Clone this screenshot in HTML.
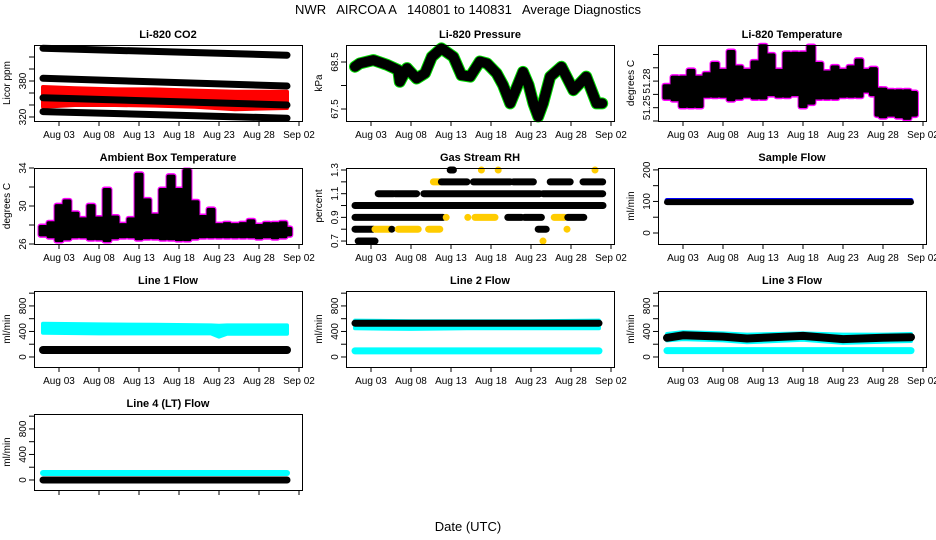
<!DOCTYPE html>
<html><head><meta charset="utf-8"><style>
html,body{margin:0;padding:0;background:#fff;}
svg{display:block;font-family:"Liberation Sans",Arial,sans-serif;}
</style></head><body>
<svg id="chart" width="936" height="540" viewBox="0 0 936 540" xmlns="http://www.w3.org/2000/svg">
<text x="468" y="14" text-anchor="middle" font-size="13" style="white-space:pre">NWR   AIRCOA A   140801 to 140831   Average Diagnostics</text>
<text x="468" y="531" text-anchor="middle" font-size="13">Date (UTC)</text>
</svg>
<script>
// ---- shared x axis ----
const xTickDays = [3, 8, 13, 18, 23, 28, 33];
const xTickLabels = ["Aug 03", "Aug 08", "Aug 13", "Aug 18", "Aug 23", "Aug 28", "Sep 02"];
// ---- CO2 ----
const co2Dates = [1, 31.5];
const co2Ref1 = [434.5, 423];
const co2Ref2 = [384.5, 371.7];
const co2Ref3 = [352, 340];
const co2Ref4 = [329, 318];
const co2RedDates = [1, 5, 10, 15, 20, 25, 31.5];
const co2RedHi = [370, 368, 366, 366, 364, 362, 362];
const co2RedLo = [337, 340, 340, 339, 337, 333, 335];
// ---- Pressure ----
const presDates = [1.0,1.6,3.3,5.0,6.4,6.6,7.5,8.1,8.7,9.75,10.6,11.8,13.3,14.3,15.4,16.6,17.5,18.7,19.5,20.4,21,22,22.7,23.3,23.9,24.5,25.4,26.8,28.3,29.9,31.2,31.9];
const presVals = [68.40,68.47,68.54,68.44,68.33,68.08,68.37,68.26,68.15,68.26,68.61,68.79,68.61,68.22,68.19,68.51,68.47,68.26,68.01,67.62,67.87,68.29,68.01,67.62,67.34,67.62,68.19,68.40,67.90,68.19,67.62,67.62];
// ---- Li-820 temperature (daily hi/lo) ----
const tempDates = [1,2,3,4,5,6,7,8,9,10,11,12,13,14,15,16,17,18,19,20,21,22,23,24,25,26,26.8,27.5,28,29,30,31,31.8];
const tempHi = [51.2765,51.2861,51.2861,51.2938,51.2861,51.2900,51.3016,51.2938,51.3150,51.2977,51.2938,51.3034,51.3215,51.3112,51.2938,51.3131,51.3131,51.3131,51.3207,51.3016,51.2919,51.2977,51.2938,51.2977,51.3054,51.2938,51.2958,51.2727,51.2727,51.2708,51.2708,51.2708,51.2688];
const tempLo = [51.2592,51.2573,51.2497,51.2497,51.2497,51.2612,51.2612,51.2612,51.2573,51.2592,51.2612,51.2592,51.2592,51.2630,51.2612,51.2612,51.2630,51.2497,51.2535,51.2592,51.2592,51.2592,51.2612,51.2612,51.2612,51.2670,51.2630,51.2400,51.2381,51.2400,51.2381,51.2362,51.2400];
// ---- Ambient box temperature ----
const ambDates = [1,2,3,4,5,6,7,8,9,10,11,12,13,14,15,16,17,18,19,20,21,22,23,24,25,26,27,28,29,30,31,31.6];
const ambHi = [28.0,28.4,30.2,30.7,29.4,28.8,30.2,28.9,31.9,29.0,28.2,28.8,33.5,30.8,29.2,31.9,33.3,31.9,33.9,30.6,29.05,29.8,28.2,28.3,28.2,28.3,28.6,28.1,28.3,28.3,28.4,27.8];
const ambLo = [26.8,26.6,26.2,26.4,26.6,26.6,26.4,26.4,26.2,26.5,26.6,26.6,26.4,26.5,26.5,26.4,26.4,26.3,26.3,26.5,26.6,26.6,26.6,26.6,26.6,26.6,26.6,26.5,26.6,26.5,26.6,26.8];
// ---- Gas stream RH runs ----
const rhLevel = [1.0,0.9,0.9,0.9,0.9,0.9,0.9,0.9,0.9,1.1,1.1,1.1,1.1,1.2,1.2,1.2,1.2,1.2,1.2,0.8,0.8,0.8,0.8,0.8,0.8,0.8,0.7,0.7,1.3,1.3,1.3,1.3];
const rhStart = [1,1,12.4,15.1,16,20.1,22.2,25.9,27.6,3.9,6.0,9.6,24.5,10.8,11.8,15.8,20.8,25.4,29.5,1,3.5,5.6,6.4,10.2,23.9,27.5,1.4,24.5,12.9,16.8,18.9,31.0];
const rhEnd = [32,12.0,12.4,15.1,18.5,21.8,24.3,27.2,29.6,5.8,8.7,24.1,31.96,11.6,15.0,20.4,23.3,27.9,31.96,3.3,5.4,5.6,8.9,11.6,24.9,27.5,3.5,24.5,13.3,16.8,18.9,31.0];
const rhFlag = [0,0,1,1,1,0,0,1,0,0,0,0,0,1,0,0,0,0,0,0,1,0,1,1,0,1,0,1,0,1,1,1];
// ---- Flows ----
const flatDates = [1, 31.5];
const sampleBlue = [103, 103];
const sampleBlack = [98, 98];
const l1CyanDates = [1, 8, 15, 22, 23, 24, 31.5];
const l1CyanHi = [520, 510, 505, 495, 490, 495, 495];
const l1CyanLo = [380, 370, 370, 370, 320, 365, 365];
const l1Black = [110, 110];
const l2CyanDates = [1, 8, 15, 23, 31.5];
const l2CyanHi = [570, 560, 560, 560, 570];
const l2CyanLo = [450, 440, 450, 450, 450];
const l2Black = [530, 530];
const l2Low = [95, 95];
const l3Dates = [1, 3, 8, 11, 18, 23, 28, 31.5];
const l3CyanHi = [360, 390, 370, 350, 370, 350, 350, 360];
const l3CyanLo = [260, 280, 260, 230, 270, 220, 240, 250];
const l3Black = [300, 340, 320, 290, 330, 280, 300, 310];
const l3Low = [100, 100];
const l4Cyan = [110, 110];
const l4Black = [0, 0];

const NS = "http://www.w3.org/2000/svg";
const svg = document.getElementById("chart");
function mk(tag, attrs, parent) {
  const e = document.createElementNS(NS, tag);
  for (const k in attrs) e.setAttribute(k, attrs[k]);
  (parent || svg).appendChild(e);
  return e;
}
const colL = [34, 346, 658], rowT = [45, 168, 291, 414], PW = 268, PH = 76;

function panel(col, row, name, title, ylab, ylim, ticks, labels, showX) {
  const x0 = colL[col], y0 = rowT[row];
  const g = mk("g", {});
  
  
  const xs = d => x0 + 9 + (d - 1) * 8;
  const ys = v => y0 + PH - (v - ylim[0]) / (ylim[1] - ylim[0]) * PH;
  const t = mk("text", {x: x0 + PW / 2, y: y0 - 7, "text-anchor": "middle", "font-size": "11", "font-weight": "bold"}, g);
  t.textContent = title;
  
  
  const yl = mk("text", {transform: `translate(${x0 - 24},${y0 + PH / 2}) rotate(-90)`, "text-anchor": "middle", "font-size": "10"}, g);
  yl.textContent = ylab;
  
  
  const data = mk("g", {}, g);
  
  
  const ax = mk("g", {stroke: "#000", "stroke-width": "1", fill: "none"}, g);
  
  
  mk("rect", {x: x0 + 0.5, y: y0 + 0.5, width: PW, height: PH}, ax);
  xTickDays.forEach((d, i) => {
    mk("line", {x1: xs(d), x2: xs(d), y1: y0 + PH, y2: y0 + PH + 5}, ax);
    if (showX) {
      const tl = mk("text", {x: xs(d), y: y0 + PH + 17, "text-anchor": "middle", "font-size": "10", fill: "#000", stroke: "none"}, g);
      tl.textContent = xTickLabels[i];
      
      
    }
  });
  ticks.forEach((v, i) => {
    mk("line", {x1: x0 - 5, x2: x0, y1: ys(v), y2: ys(v)}, ax);
    if (labels[i] !== "") {
      const tl = mk("text", {transform: `translate(${x0 - 8},${ys(v)}) rotate(-90)`, "text-anchor": "middle", "font-size": "10", fill: "#000", stroke: "none"}, g);
      tl.textContent = labels[i];
      
      
    }
  });
  return {xs, ys, g: data};
}
function line(p, dates, vals, color, w, nm) {
  const pts = dates.map((d, i) => p.xs(d).toFixed(1) + "," + p.ys(vals[i]).toFixed(1)).join(" ");
  const e = mk("polyline", {points: pts, fill: "none", stroke: color, "stroke-width": w, "stroke-linejoin": "round", "stroke-linecap": "round"}, p.g);
  
  
}
function band(p, dates, lo, hi, color, nm) {
  const a = dates.map((d, i) => p.xs(d).toFixed(1) + "," + p.ys(hi[i]).toFixed(1));
  const b = dates.map((d, i) => p.xs(d).toFixed(1) + "," + p.ys(lo[i]).toFixed(1)).reverse();
  const e = mk("polygon", {points: a.concat(b).join(" "), fill: color, stroke: color, "stroke-width": 4, "stroke-linejoin": "round"}, p.g);
  
  
}
function bars(p, dates, lo, hi, fill, stroke, nm) {
  // magenta halo first, then black cores
  dates.forEach((d, i) => {
    const y1 = p.ys(hi[i]), y2 = p.ys(lo[i]);
    const r = mk("rect", {x: p.xs(d) - 5.5, y: y1 - 1.5, width: 11, height: Math.max(1, y2 - y1) + 3, fill: stroke, rx: 3}, p.g);
    
    
  });
  dates.forEach((d, i) => {
    const y1 = p.ys(hi[i]), y2 = p.ys(lo[i]);
    const r = mk("rect", {x: p.xs(d) - 4.5, y: y1, width: 9, height: Math.max(1, y2 - y1), fill: fill, rx: 2}, p.g);
    
    
  });
}

// CO2
let p = panel(0, 0, "co2", "Li-820 CO2", "Licor ppm", [313.3, 440], [320, 340, 360, 380, 400, 420], ["320", "", "", "380", "", ""], true);
line(p, co2Dates, co2Ref1, "#000", 7, "co2-ref1-line");
line(p, co2Dates, co2Ref2, "#000", 7, "co2-ref2-line");
band(p, co2RedDates, co2RedLo, co2RedHi, "#f00", "co2-sample-band");
line(p, co2Dates, co2Ref3, "#000", 7, "co2-ref3-line");
line(p, co2Dates, co2Ref4, "#000", 7, "co2-ref4-line");

// Pressure
p = panel(1, 0, "pressure", "Li-820 Pressure", "kPa", [67.245, 68.862], [67.5, 68.0, 68.5], ["67.5", "", "68.5"], true);
line(p, presDates, presVals, "#00dd00", 12, "pressure-outline");
line(p, presDates, presVals, "#000", 10, "pressure-line");

// Temperature
p = panel(2, 0, "li820-temp", "Li-820 Temperature", "degrees C", [51.235, 51.3207], [51.235, 51.25, 51.265, 51.28, 51.295, 51.31], ["", "51.25", "", "51.28", "", ""], true);
bars(p, tempDates, tempLo, tempHi, "#000", "#ff00ff", "temp-day-bar");

// Ambient
p = panel(0, 1, "ambient", "Ambient Box Temperature", "degrees C", [26, 34], [26, 28, 30, 32, 34], ["26", "", "30", "", "34"], true);
bars(p, ambDates, ambLo, ambHi, "#000", "#ff00ff", "ambient-day-bar");

// RH
p = panel(1, 1, "rh", "Gas Stream RH", "percent", [0.675, 1.317], [0.7, 0.8, 0.9, 1.0, 1.1, 1.2, 1.3], ["0.7", "", "0.9", "", "1.1", "", "1.3"], true);
rhLevel.forEach((lv, i) => {
  const c = rhFlag[i] ? "#ffcc00" : "#000";
  const e = mk("line", {x1: p.xs(rhStart[i]), x2: p.xs(rhEnd[i]), y1: p.ys(lv), y2: p.ys(lv), stroke: c, "stroke-width": 7, "stroke-linecap": "round"}, p.g);
  
  
});

// Sample flow
p = panel(2, 1, "sample-flow", "Sample Flow", "ml/min", [-34.9, 206], [0, 50, 100, 150, 200], ["0", "", "100", "", "200"], true);
line(p, flatDates, sampleBlue, "#0000ff", 5, "sample-flow-blue");
line(p, flatDates, sampleBlack, "#000", 6, "sample-flow-black");

const flowTicks = [0, 200, 400, 600, 800, 1000], flowLab = ["0", "", "400", "", "800", ""], flowLim = [-157, 1034];
p = panel(0, 2, "line1", "Line 1 Flow", "ml/min", flowLim, flowTicks, flowLab, true);
band(p, l1CyanDates, l1CyanLo, l1CyanHi, "#00ffff", "line1-cyan-band");
line(p, flatDates, l1Black, "#000", 8, "line1-black");
p = panel(1, 2, "line2", "Line 2 Flow", "ml/min", flowLim, flowTicks, flowLab, true);
band(p, l2CyanDates, l2CyanLo, l2CyanHi, "#00ffff", "line2-cyan-band");
line(p, flatDates, l2Black, "#000", 7, "line2-black");
line(p, flatDates, l2Low, "#00ffff", 7, "line2-cyan-low");
p = panel(2, 2, "line3", "Line 3 Flow", "ml/min", flowLim, flowTicks, flowLab, true);
band(p, l3Dates, l3CyanLo, l3CyanHi, "#00ffff", "line3-cyan-band");
line(p, l3Dates, l3Black, "#000", 8, "line3-black");
line(p, flatDates, l3Low, "#00ffff", 7, "line3-cyan-low");
p = panel(0, 3, "line4", "Line 4 (LT) Flow", "ml/min", flowLim, flowTicks, flowLab, false);
line(p, flatDates, l4Cyan, "#00ffff", 6, "line4-cyan");
line(p, flatDates, l4Black, "#000", 7, "line4-black");
</script>
</body></html>
